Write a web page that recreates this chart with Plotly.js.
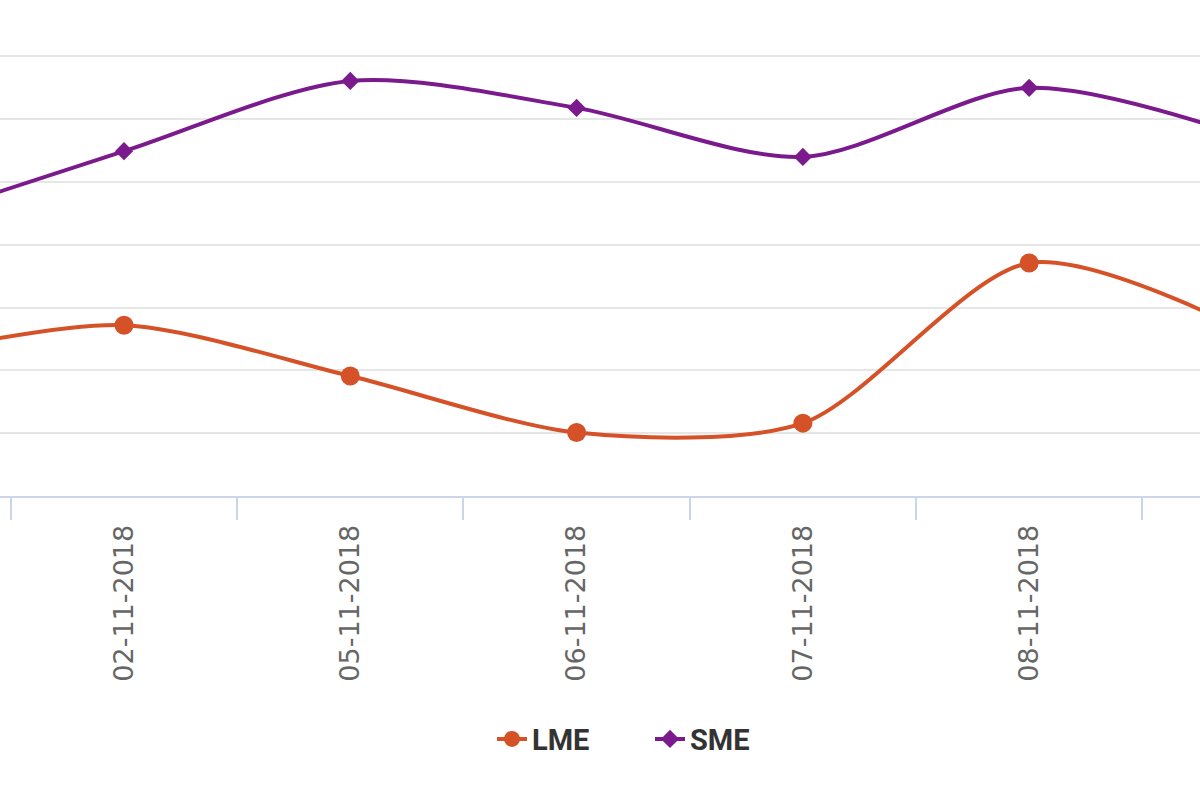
<!DOCTYPE html>
<html>
<head>
<meta charset="utf-8">
<script src="https://cdn.plot.ly/plotly-3.0.1.min.js"></script>
<style>
html,body{margin:0;padding:0;background:#fff;}
#chart{width:1200px;height:800px;}
</style>
</head>
<body>
<div id="chart"></div>
<script>
// Categories (first and last lie just outside the visible window)
var categories = ['01-11-2018','02-11-2018','05-11-2018','06-11-2018','07-11-2018','08-11-2018','09-11-2018'];
var lmeValues = [22.0, 27.2, 19.1, 10.1, 11.6, 37.1, 25.6];
var smeValues = [43.2, 54.9, 66.1, 61.8, 54.0, 65.0, 56.7];
var seriesNames = ['LME', 'SME'];

var lme = {
  x: categories, y: lmeValues, name: seriesNames[0], type: 'scatter', mode: 'lines+markers',
  line: {color: '#d55127', width: 4, shape: 'spline', smoothing: 0.8},
  marker: {symbol: 'circle', size: 19, color: '#d55127'},
  cliponaxis: true, hoverinfo: 'x+y+name'
};
var sme = {
  x: categories, y: smeValues, name: seriesNames[1], type: 'scatter', mode: 'lines+markers',
  line: {color: '#7b1a8c', width: 4, shape: 'spline', smoothing: 0.85},
  marker: {symbol: 'diamond', size: 14, color: '#7b1a8c'},
  cliponaxis: true, hoverinfo: 'x+y+name'
};

var layout = {
  width: 1200, height: 800,
  margin: {l: 0, r: 0, t: 0, b: 304, pad: 0},
  paper_bgcolor: '#ffffff', plot_bgcolor: '#ffffff',
  showlegend: true,
  legend: {
    orientation: 'h', x: 0.41, xanchor: 'left', y: -0.49, yanchor: 'middle',
    font: {family: 'Roboto, "Open Sans", sans-serif', size: 29, color: '#333333', weight: 'bold'},
    itemsizing: 'trace', tracegroupgap: 0,
    entrywidth: 113, entrywidthmode: 'pixels'
  },
  xaxis: {
    type: 'category',
    range: [0.452, 5.755],
    tickson: 'boundaries',
    ticks: 'outside', ticklen: 22, tickwidth: 2, tickcolor: '#ccd6eb',
    showline: true, linecolor: '#ccd6eb', linewidth: 2,
    showgrid: false, zeroline: false,
    tickangle: -90,
    ticklabelstandoff: 16,
    tickfont: {family: 'DejaVu Sans', size: 27, color: '#666666'},
    fixedrange: true
  },
  yaxis: {
    range: [0, 78.98],
    dtick: 10, tick0: 0,
    showgrid: true, gridcolor: '#e6e6e6', gridwidth: 2,
    zeroline: false, showticklabels: false, ticks: '',
    showline: false, fixedrange: true
  }
};

Plotly.newPlot('chart', [lme, sme], layout, {displayModeBar: false, staticPlot: true});
</script>
</body>
</html>
